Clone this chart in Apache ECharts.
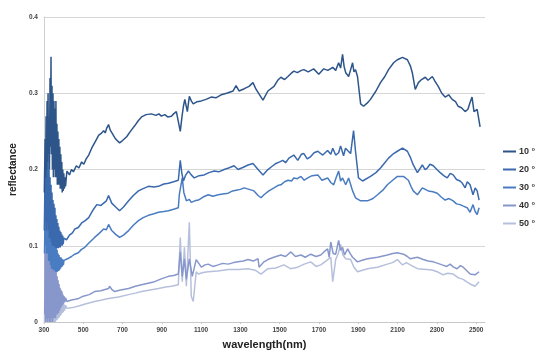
<!DOCTYPE html>
<html>
<head>
<meta charset="utf-8">
<script src="https://cdn.jsdelivr.net/npm/echarts@6/dist/echarts.min.js"></script>
<style>
html, body { margin: 0; padding: 0; background: #fff; }
#chart { width: 539px; height: 355px; }
</style>
</head>
<body>
<div id="chart"></div>
<script>
// angle names shown in the legend
const angles = ['10 °', '20 °', '30 °', '40 °', '50 °']
const colors = ['#2d5589', '#3a69ad', '#4a7cc2', '#8797cb', '#b6c0dc']
const xTicks = [300, 500, 700, 900, 1100, 1300, 1500, 1700, 1900, 2100, 2300, 2500]

// reflectance, [wavelength nm, value]
const deg10 = [
  [302, 0.17], [306, 0.24], [308, 0.19], [311, 0.27], [313, 0.2], [316, 0.29], [318, 0.21],
  [321, 0.3], [323, 0.22], [326, 0.26], [328, 0.2], [331, 0.32], [333, 0.23], [336, 0.348],
  [338, 0.22], [341, 0.31], [343, 0.2], [346, 0.30], [348, 0.19], [351, 0.29], [353, 0.2],
  [356, 0.28], [358, 0.19], [361, 0.29], [363, 0.19], [366, 0.26], [368, 0.18], [371, 0.25],
  [373, 0.18], [376, 0.24], [378, 0.18], [381, 0.23], [383, 0.175], [386, 0.22], [388, 0.175],
  [391, 0.21], [393, 0.17], [396, 0.2], [398, 0.172], [401, 0.195], [404, 0.175], [407, 0.19],
  [410, 0.178], [414, 0.19], [417, 0.198], [430, 0.193], [440, 0.2], [450, 0.197], [465, 0.205],
  [478, 0.202], [492, 0.21], [503, 0.207], [515, 0.214], [528, 0.219], [543, 0.228], [560, 0.236],
  [579, 0.245], [590, 0.247], [604, 0.251], [612, 0.248], [619, 0.254], [629, 0.259], [637, 0.252],
  [645, 0.25], [665, 0.24], [685, 0.235], [700, 0.238], [721, 0.243], [740, 0.25], [761, 0.257],
  [780, 0.264], [797, 0.269], [820, 0.272], [847, 0.273], [870, 0.271], [885, 0.273], [898, 0.27],
  [915, 0.272], [930, 0.269], [949, 0.27], [960, 0.273], [974, 0.276], [984, 0.277], [994, 0.25],
  [1003, 0.27], [1010, 0.283], [1017, 0.292], [1030, 0.276], [1040, 0.296], [1050, 0.29],
  [1060, 0.286], [1080, 0.289], [1101, 0.29], [1125, 0.292], [1151, 0.295], [1175, 0.294],
  [1202, 0.298], [1230, 0.3], [1263, 0.303], [1278, 0.31], [1293, 0.303], [1320, 0.306],
  [1344, 0.309], [1364, 0.314], [1380, 0.305], [1405, 0.295], [1415, 0.291], [1440, 0.303],
  [1471, 0.309], [1490, 0.317], [1506, 0.321], [1525, 0.318], [1542, 0.322], [1558, 0.326],
  [1572, 0.329], [1590, 0.327], [1610, 0.33], [1623, 0.331], [1645, 0.328], [1673, 0.332],
  [1699, 0.325], [1724, 0.332], [1745, 0.33], [1770, 0.334], [1785, 0.33], [1800, 0.34],
  [1810, 0.333], [1820, 0.351], [1828, 0.335], [1836, 0.327], [1851, 0.322], [1860, 0.33],
  [1871, 0.34], [1878, 0.328], [1886, 0.331], [1896, 0.322], [1912, 0.286], [1927, 0.283],
  [1945, 0.287], [1962, 0.292], [1990, 0.303], [2013, 0.314], [2035, 0.322], [2054, 0.331],
  [2080, 0.34], [2099, 0.344], [2125, 0.347], [2150, 0.344], [2165, 0.336], [2175, 0.327],
  [2190, 0.305], [2206, 0.314], [2222, 0.318], [2241, 0.321], [2255, 0.317], [2277, 0.322],
  [2290, 0.316], [2307, 0.309], [2325, 0.3], [2342, 0.295], [2360, 0.298], [2378, 0.292],
  [2395, 0.289], [2408, 0.283], [2425, 0.281], [2444, 0.276], [2458, 0.279], [2469, 0.288],
  [2479, 0.295], [2489, 0.276], [2505, 0.279], [2520, 0.256]
]
const deg20 = [
  [302, 0.12], [306, 0.2], [308, 0.13], [311, 0.24], [313, 0.12], [316, 0.26], [318, 0.13],
  [321, 0.22], [323, 0.12], [326, 0.2], [328, 0.11], [331, 0.19], [333, 0.11], [336, 0.18],
  [338, 0.105], [341, 0.17], [343, 0.1], [346, 0.16], [348, 0.1], [351, 0.155], [353, 0.1],
  [356, 0.15], [358, 0.098], [361, 0.14], [363, 0.097], [366, 0.135], [368, 0.097], [371, 0.13],
  [373, 0.097], [376, 0.125], [378, 0.098], [381, 0.12], [383, 0.098], [386, 0.118], [388, 0.1],
  [391, 0.115], [393, 0.1], [396, 0.113], [398, 0.102], [401, 0.11], [415, 0.108], [430, 0.114],
  [445, 0.117], [457, 0.122], [475, 0.124], [492, 0.13], [510, 0.133], [528, 0.137], [550, 0.147],
  [569, 0.154], [590, 0.153], [604, 0.156], [618, 0.159], [629, 0.166], [645, 0.156], [665, 0.151],
  [685, 0.146], [705, 0.151], [731, 0.159], [755, 0.166], [781, 0.172], [805, 0.175], [832, 0.178],
  [860, 0.177], [883, 0.178], [910, 0.181], [934, 0.182], [960, 0.184], [984, 0.186], [994, 0.212],
  [1002, 0.195], [1010, 0.185], [1020, 0.192], [1035, 0.198], [1050, 0.193], [1065, 0.189],
  [1090, 0.192], [1116, 0.193], [1140, 0.196], [1167, 0.198], [1190, 0.197], [1217, 0.2],
  [1240, 0.202], [1268, 0.205], [1288, 0.2], [1315, 0.203], [1339, 0.206], [1364, 0.208],
  [1390, 0.2], [1415, 0.193], [1440, 0.2], [1460, 0.204], [1481, 0.208], [1500, 0.21],
  [1516, 0.212], [1530, 0.209], [1547, 0.215], [1572, 0.219], [1592, 0.212], [1610, 0.22],
  [1623, 0.221], [1640, 0.214], [1658, 0.217], [1675, 0.222], [1694, 0.224], [1719, 0.219],
  [1744, 0.225], [1760, 0.22], [1770, 0.228], [1785, 0.219], [1800, 0.222], [1810, 0.231],
  [1825, 0.218], [1835, 0.228], [1846, 0.225], [1861, 0.221], [1876, 0.251], [1886, 0.224],
  [1901, 0.189], [1922, 0.185], [1962, 0.191], [1990, 0.196], [2013, 0.202], [2035, 0.209],
  [2054, 0.215], [2080, 0.221], [2099, 0.224], [2125, 0.228], [2150, 0.224], [2165, 0.216],
  [2180, 0.206], [2201, 0.196], [2226, 0.206], [2240, 0.2], [2251, 0.202], [2265, 0.207],
  [2282, 0.205], [2300, 0.2], [2317, 0.196], [2335, 0.192], [2353, 0.189], [2368, 0.195],
  [2383, 0.193], [2400, 0.187], [2418, 0.185], [2430, 0.182], [2444, 0.176], [2455, 0.184],
  [2469, 0.18], [2484, 0.167], [2495, 0.176], [2505, 0.172], [2515, 0.16]
]
const deg30 = [
  [303, 0.09], [307, 0.17], [309, 0.1], [312, 0.2], [314, 0.09], [317, 0.18], [319, 0.09],
  [322, 0.17], [324, 0.08], [327, 0.16], [329, 0.08], [332, 0.15], [334, 0.075], [337, 0.14],
  [339, 0.07], [342, 0.13], [344, 0.07], [347, 0.12], [349, 0.068], [352, 0.11], [354, 0.068],
  [357, 0.105], [359, 0.066], [362, 0.1], [364, 0.065], [367, 0.095], [369, 0.066], [372, 0.09],
  [374, 0.067], [377, 0.088], [379, 0.068], [382, 0.085], [384, 0.07], [387, 0.085], [389, 0.072],
  [392, 0.083], [394, 0.073], [397, 0.082], [399, 0.075], [402, 0.081], [420, 0.083], [440, 0.086],
  [457, 0.089], [475, 0.091], [490, 0.095], [508, 0.098], [530, 0.104], [558, 0.111], [580, 0.116],
  [604, 0.122], [618, 0.121], [629, 0.128], [645, 0.12], [665, 0.115], [685, 0.111], [705, 0.114],
  [731, 0.12], [755, 0.127], [781, 0.133], [805, 0.137], [832, 0.14], [860, 0.142], [883, 0.144],
  [910, 0.145], [934, 0.146], [960, 0.148], [984, 0.15], [989, 0.167], [1004, 0.189],
  [1012, 0.17], [1025, 0.159], [1040, 0.161], [1050, 0.157], [1068, 0.159], [1086, 0.16],
  [1110, 0.164], [1136, 0.167], [1160, 0.165], [1187, 0.167], [1210, 0.168], [1238, 0.169],
  [1260, 0.172], [1278, 0.173], [1300, 0.174], [1319, 0.176], [1345, 0.174], [1369, 0.172],
  [1390, 0.166], [1405, 0.163], [1420, 0.167], [1445, 0.172], [1471, 0.176], [1490, 0.179],
  [1506, 0.18], [1525, 0.184], [1542, 0.186], [1560, 0.185], [1572, 0.189], [1590, 0.188],
  [1608, 0.191], [1625, 0.186], [1643, 0.189], [1665, 0.192], [1694, 0.193], [1715, 0.186],
  [1744, 0.189], [1760, 0.183], [1775, 0.18], [1788, 0.19], [1800, 0.198], [1810, 0.185],
  [1820, 0.189], [1836, 0.18], [1851, 0.189], [1871, 0.172], [1886, 0.163], [1912, 0.159],
  [1947, 0.159], [1975, 0.162], [1998, 0.167], [2025, 0.173], [2048, 0.18], [2075, 0.186],
  [2099, 0.191], [2130, 0.191], [2155, 0.186], [2168, 0.178], [2180, 0.172], [2201, 0.167],
  [2226, 0.176], [2256, 0.172], [2280, 0.171], [2302, 0.169], [2322, 0.164], [2342, 0.16],
  [2362, 0.162], [2383, 0.159], [2400, 0.155], [2418, 0.154], [2435, 0.152], [2454, 0.15],
  [2469, 0.144], [2484, 0.154], [2495, 0.145], [2505, 0.141], [2515, 0.15]
]
const deg40 = [
  [304, 0.01], [307, 0.11], [309, 0.0], [312, 0.13], [314, 0.005], [317, 0.12], [319, 0.0],
  [322, 0.12], [324, 0.005], [327, 0.11], [329, 0.0], [332, 0.1], [334, 0.0], [337, 0.1],
  [339, 0.005], [342, 0.09], [344, 0.0], [347, 0.085], [349, 0.005], [352, 0.08], [354, 0.005],
  [357, 0.07], [359, 0.005], [362, 0.065], [364, 0.01], [367, 0.06], [369, 0.01], [372, 0.055],
  [374, 0.012], [377, 0.05], [379, 0.015], [382, 0.045], [384, 0.018], [387, 0.042], [389, 0.02],
  [392, 0.04], [394, 0.022], [397, 0.036], [399, 0.024], [402, 0.034], [406, 0.026], [410, 0.032],
  [417, 0.027], [440, 0.029], [460, 0.03], [477, 0.031], [500, 0.034], [530, 0.036], [558, 0.04],
  [590, 0.041], [615, 0.043], [629, 0.044], [634, 0.047], [645, 0.043], [660, 0.04], [690, 0.042],
  [731, 0.044], [765, 0.047], [797, 0.049], [830, 0.051], [863, 0.053], [900, 0.057], [934, 0.06],
  [960, 0.061], [984, 0.063], [994, 0.092], [1004, 0.06], [1015, 0.083], [1025, 0.056],
  [1040, 0.083], [1055, 0.06], [1075, 0.082], [1101, 0.072], [1120, 0.075], [1136, 0.076],
  [1160, 0.073], [1187, 0.075], [1210, 0.077], [1238, 0.076], [1265, 0.078], [1288, 0.079],
  [1315, 0.08], [1339, 0.082], [1365, 0.08], [1390, 0.083], [1395, 0.072], [1420, 0.079],
  [1440, 0.082], [1470, 0.085], [1506, 0.088], [1530, 0.086], [1557, 0.092], [1580, 0.086],
  [1608, 0.088], [1630, 0.085], [1658, 0.089], [1685, 0.086], [1709, 0.088], [1725, 0.092],
  [1744, 0.096], [1752, 0.085], [1760, 0.105], [1772, 0.09], [1785, 0.089], [1800, 0.107],
  [1810, 0.094], [1820, 0.098], [1830, 0.088], [1846, 0.096], [1858, 0.09], [1871, 0.085],
  [1896, 0.079], [1920, 0.081], [1947, 0.083], [1998, 0.085], [2048, 0.088], [2075, 0.09],
  [2099, 0.091], [2130, 0.089], [2150, 0.086], [2165, 0.083], [2201, 0.085], [2231, 0.082],
  [2255, 0.08], [2282, 0.079], [2305, 0.077], [2327, 0.075], [2350, 0.073], [2368, 0.076],
  [2385, 0.072], [2403, 0.07], [2420, 0.074], [2434, 0.072], [2450, 0.068], [2469, 0.063],
  [2494, 0.062], [2515, 0.066]
]
const deg50 = [
  [303, 0.0], [306, 0.09], [308, 0.0], [311, 0.11], [313, 0.0], [316, 0.1], [318, 0.0],
  [321, 0.11], [323, 0.0], [326, 0.09], [328, 0.0], [331, 0.09], [333, 0.0], [336, 0.08],
  [338, 0.0], [341, 0.075], [343, 0.0], [346, 0.07], [348, 0.0], [351, 0.065], [353, 0.0],
  [356, 0.06], [358, 0.0], [361, 0.055], [363, 0.002], [366, 0.05], [368, 0.003], [371, 0.045],
  [373, 0.005], [376, 0.04], [378, 0.006], [381, 0.035], [383, 0.008], [386, 0.032], [388, 0.01],
  [391, 0.028], [393, 0.012], [396, 0.026], [398, 0.013], [401, 0.024], [405, 0.015],
  [410, 0.022], [417, 0.018], [445, 0.019], [477, 0.021], [515, 0.024], [558, 0.027],
  [595, 0.029], [629, 0.031], [680, 0.033], [731, 0.036], [765, 0.038], [797, 0.04], [840, 0.042],
  [883, 0.044], [920, 0.046], [949, 0.047], [984, 0.049], [994, 0.111], [1004, 0.053],
  [1015, 0.098], [1025, 0.047], [1040, 0.131], [1050, 0.034], [1060, 0.027], [1075, 0.066],
  [1086, 0.063], [1110, 0.065], [1136, 0.066], [1185, 0.067], [1238, 0.069], [1290, 0.069],
  [1339, 0.07], [1375, 0.068], [1405, 0.063], [1440, 0.07], [1480, 0.071], [1521, 0.075],
  [1555, 0.07], [1592, 0.072], [1625, 0.076], [1658, 0.079], [1685, 0.073], [1709, 0.075],
  [1735, 0.08], [1760, 0.085], [1770, 0.053], [1785, 0.082], [1798, 0.09], [1810, 0.102],
  [1822, 0.088], [1836, 0.083], [1861, 0.082], [1878, 0.072], [1896, 0.066], [1947, 0.07],
  [1998, 0.072], [2048, 0.076], [2075, 0.078], [2099, 0.082], [2125, 0.075], [2145, 0.078],
  [2165, 0.075], [2201, 0.07], [2251, 0.069], [2280, 0.068], [2302, 0.066], [2332, 0.062],
  [2355, 0.064], [2383, 0.063], [2410, 0.058], [2434, 0.056], [2450, 0.053], [2469, 0.05],
  [2494, 0.047], [2515, 0.053]
]
const seriesData = [deg10, deg20, deg30, deg40, deg50]

const font = '"Liberation Sans", Arial, sans-serif'
const chart = echarts.init(document.getElementById('chart'))
chart.setOption({
  animation: false,
  color: colors,
  grid: { left: 42, right: 54, top: 17, bottom: 29 },
  legend: {
    orient: 'vertical',
    left: 503,
    top: 147,
    padding: 0,
    icon: 'rect',
    itemWidth: 13,
    itemHeight: 2,
    itemGap: 9,
    data: angles,
    textStyle: { fontFamily: font, fontWeight: 'bold', fontSize: 9, color: '#333', padding: [0, 0, 0, -2] }
  },
  xAxis: {
    type: 'value',
    min: 300,
    max: 2545,
    name: 'wavelength(nm)',
    nameLocation: 'middle',
    nameGap: 12,
    nameTextStyle: { fontFamily: font, fontWeight: 'bold', fontSize: 11, color: '#222' },
    axisLine: { lineStyle: { color: '#c8c8c8' } },
    axisTick: { show: true, length: 2, customValues: xTicks, lineStyle: { color: '#c8c8c8' } },
    axisLabel: {
      customValues: xTicks,
      margin: 5,
      formatter: v => String(v),
      fontFamily: font, fontWeight: 'bold', fontSize: 6.5, color: '#444'
    },
    splitLine: { show: false }
  },
  yAxis: {
    type: 'value',
    min: 0,
    max: 0.4,
    interval: 0.1,
    name: 'reflectance',
    nameLocation: 'middle',
    nameGap: 23,
    nameTextStyle: { fontFamily: font, fontWeight: 'bold', fontSize: 10, color: '#222' },
    axisLine: { show: true, lineStyle: { color: '#d0d0d0' } },
    axisTick: { show: false },
    axisLabel: { margin: 6, fontFamily: font, fontWeight: 'bold', fontSize: 6.5, color: '#444' },
    splitLine: { lineStyle: { color: '#d6d6d6' } }
  },
  series: angles.map((name, i) => ({
    name: name,
    type: 'line',
    symbol: 'none',
    data: seriesData[i],
    lineStyle: { width: 1.5 },
    z: 10 - i
  }))
})
</script>
</body>
</html>
